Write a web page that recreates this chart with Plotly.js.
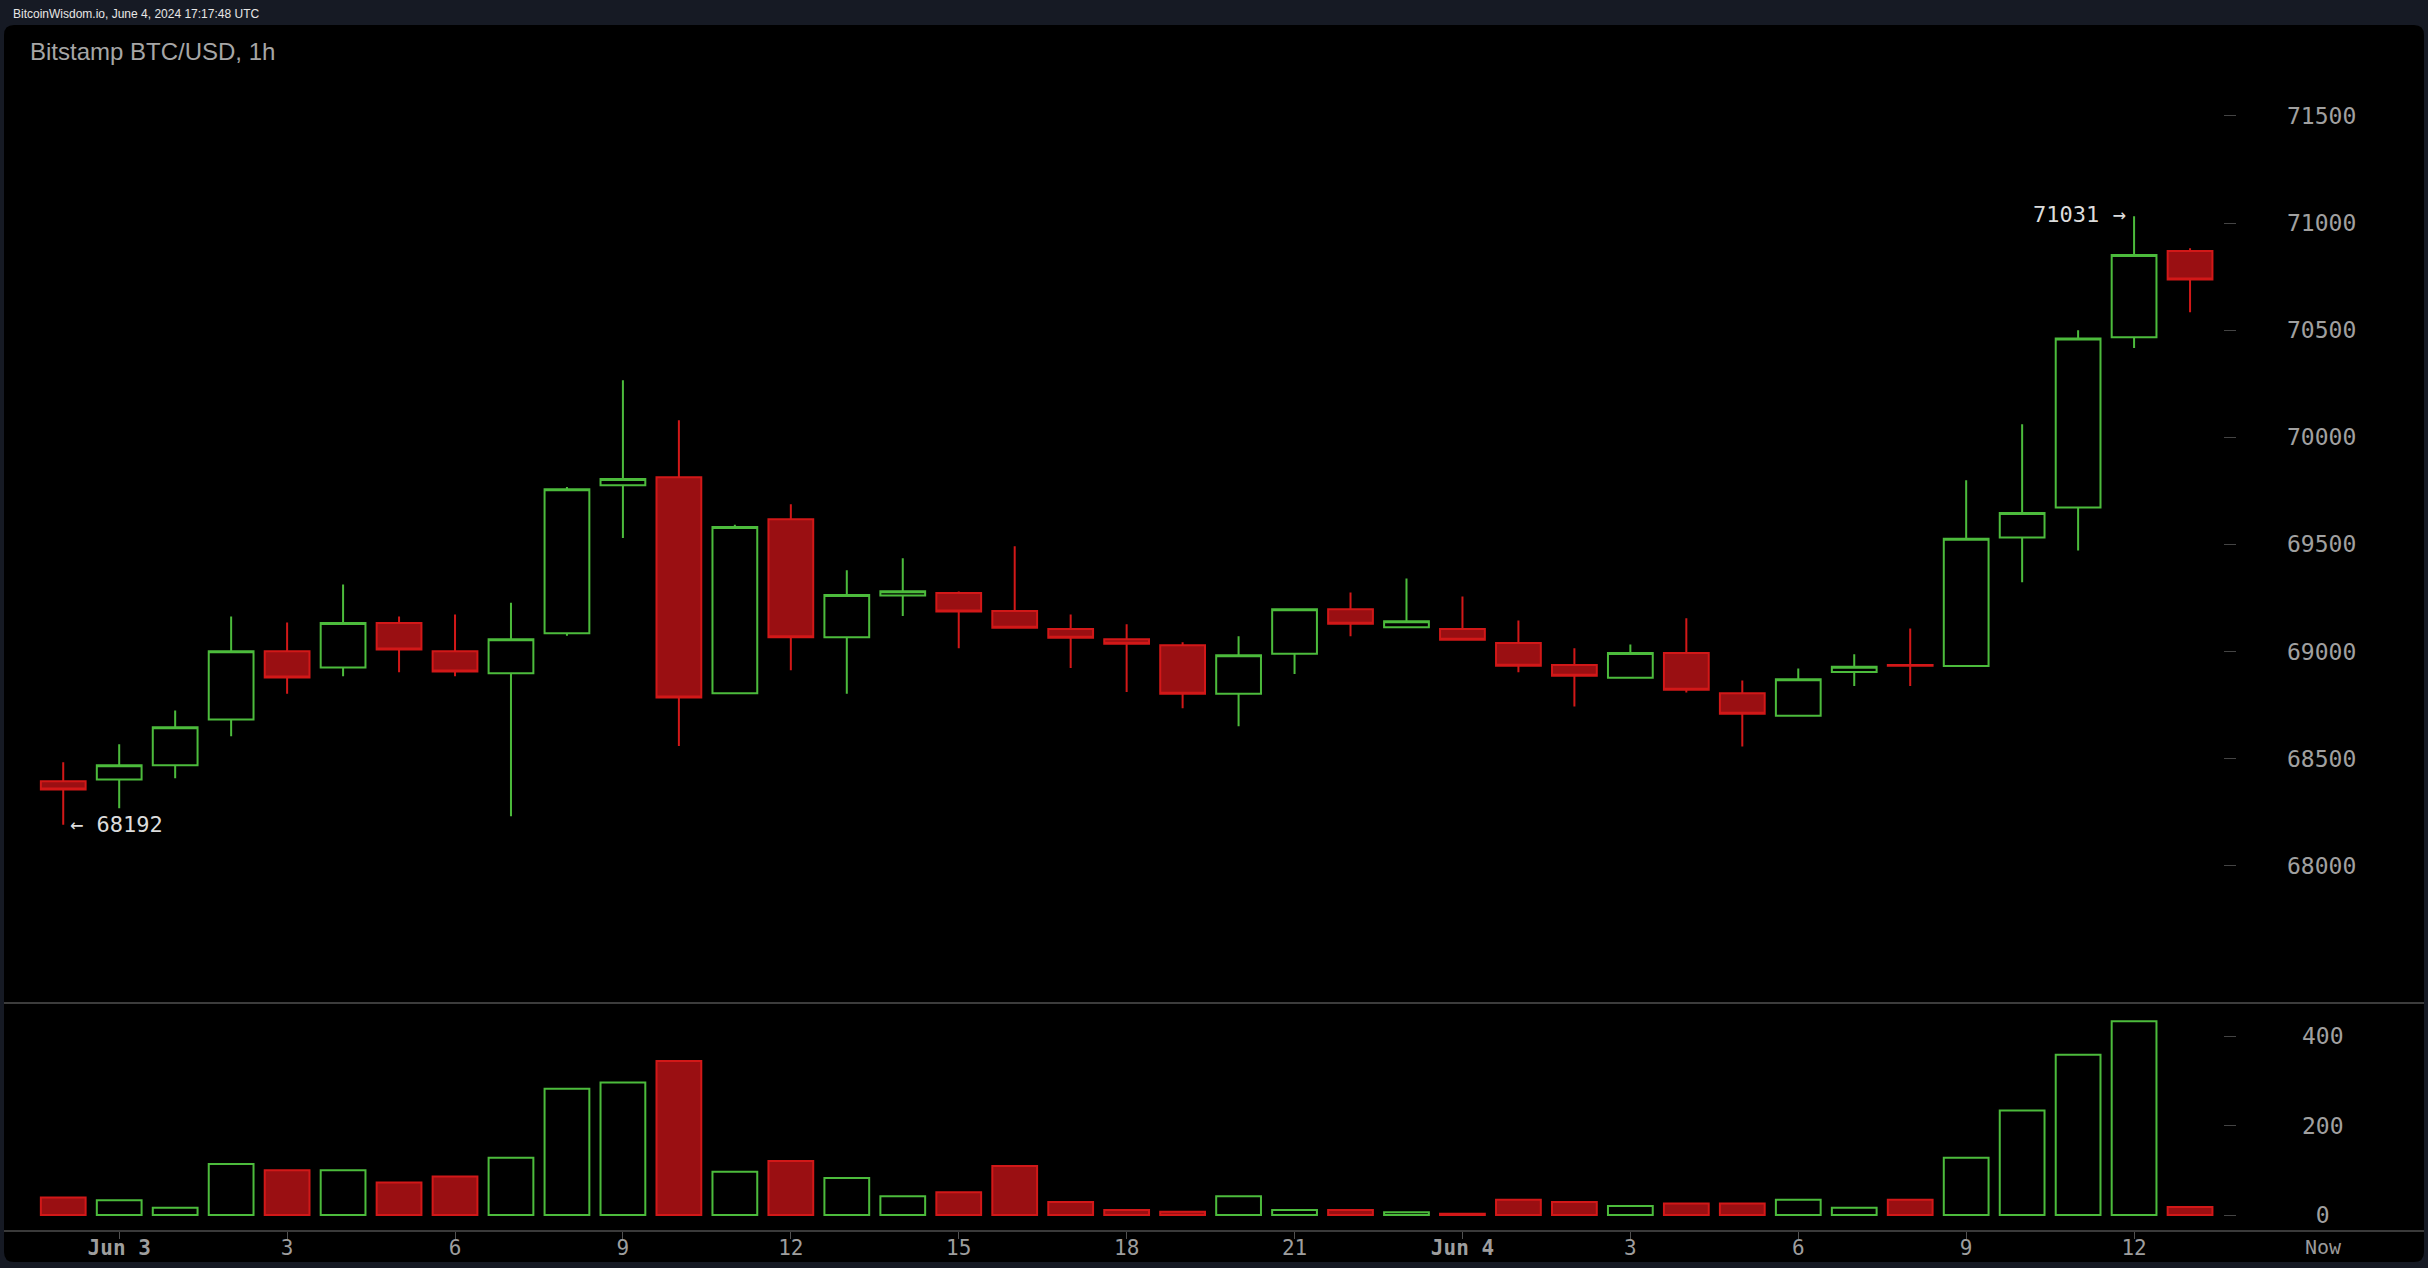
<!DOCTYPE html>
<html><head><meta charset="utf-8">
<script src="https://cdn.plot.ly/plotly-3.0.1.min.js"></script>
<style>html,body{margin:0;padding:0;background:#161a24;overflow:hidden}#chart{width:2428px;height:1268px}</style>
</head><body><div id="chart"></div>
<script>
// ---- data ----
const times = [
 '2024-06-02 23:00',
 '2024-06-03 00:00','2024-06-03 01:00','2024-06-03 02:00','2024-06-03 03:00','2024-06-03 04:00','2024-06-03 05:00',
 '2024-06-03 06:00','2024-06-03 07:00','2024-06-03 08:00','2024-06-03 09:00','2024-06-03 10:00','2024-06-03 11:00',
 '2024-06-03 12:00','2024-06-03 13:00','2024-06-03 14:00','2024-06-03 15:00','2024-06-03 16:00','2024-06-03 17:00',
 '2024-06-03 18:00','2024-06-03 19:00','2024-06-03 20:00','2024-06-03 21:00','2024-06-03 22:00','2024-06-03 23:00',
 '2024-06-04 00:00','2024-06-04 01:00','2024-06-04 02:00','2024-06-04 03:00','2024-06-04 04:00','2024-06-04 05:00',
 '2024-06-04 06:00','2024-06-04 07:00','2024-06-04 08:00','2024-06-04 09:00','2024-06-04 10:00','2024-06-04 11:00',
 '2024-06-04 12:00','2024-06-04 13:00'
];
const open  = [68395,68403,68469,68683,69002,68926,69133,69002,68899,69086,69776,69814,68806,69618,69067,69262,69273,69189,69105,69058,69030,68803,68990,69198,69113,69105,69040,68937,68878,68993,68806,68701,68905,68937,68933,69532,69672,70467,70869];
const high  = [68483,68567,68725,69164,69136,69313,69164,69173,69228,69768,70266,70079,69592,69687,69379,69435,69280,69491,69173,69127,69043,69071,69200,69276,69341,69257,69145,69015,69033,69155,68865,68921,68987,69108,69799,70061,70499,71031,70882];
const low   = [68192,68269,68409,68605,68803,68885,68904,68885,68231,69074,69530,68559,68806,68913,68803,69166,69016,69108,68923,68811,68736,68652,68895,69072,69111,69053,68903,68744,68876,68809,68557,68699,68839,68839,68931,69324,69472,70417,70584];
const close = [68356,68470,68647,69002,68879,69133,69010,68907,69058,69758,69805,68786,69581,69067,69264,69282,69187,69111,69065,69037,68803,68983,69198,69130,69142,69055,68934,68887,68993,68822,68710,68871,68929,68934,69527,69647,70461,70851,70736];
const volume = [39,33,16,114,100,100,73,86,128,283,297,345,97,121,83,42,51,110,29,11,7,42,11,11,6,3,34,29,20,26,26,34,16,34,128,234,359,434,18];

const priceTicks = [68000,68500,69000,69500,70000,70500,71000,71500];
const volTicks = [0,200,400];
const volTickText = ['\u00a00\u00a0','200','400'];
const xTickVals = ['2024-06-03 00:00','2024-06-03 03:00','2024-06-03 06:00','2024-06-03 09:00','2024-06-03 12:00','2024-06-03 15:00','2024-06-03 18:00','2024-06-03 21:00','2024-06-04 00:00','2024-06-04 03:00','2024-06-04 06:00','2024-06-04 09:00','2024-06-04 12:00'];
const xTickText = ['<b>Jun 3</b>','3','6','9','12','15','18','21','<b>Jun 4</b>','3','6','9','12'];

// ---- styling ----
const W = 2428, H = 1268;
const fx = x => x / W;
const fy = y => 1 - y / H;
const GREEN = '#4cbb3c', RED = '#d21818', REDFILL = '#9a0f12';
const MONO = 'DejaVu Sans Mono';

const up = close.map((c, i) => c >= open[i]);
const volFill = up.map(u => u ? 'rgba(0,0,0,0)' : REDFILL);
const volLine = up.map(u => u ? GREEN : RED);

const hiVal = Math.max(...high), hiIdx = high.indexOf(hiVal);
const loVal = Math.min(...low), loIdx = low.indexOf(loVal);

function panelPath(x0, y0, x1, y1, r) {
  const P = (x, y) => fx(x) + ',' + fy(y);
  return 'M' + P(x0 + r, y0) + ' L' + P(x1 - r, y0) + ' Q' + P(x1, y0) + ' ' + P(x1, y0 + r) +
    ' L' + P(x1, y1 - r) + ' Q' + P(x1, y1) + ' ' + P(x1 - r, y1) +
    ' L' + P(x0 + r, y1) + ' Q' + P(x0, y1) + ' ' + P(x0, y1 - r) +
    ' L' + P(x0, y0 + r) + ' Q' + P(x0, y0) + ' ' + P(x0 + r, y0) + ' Z';
}

const traces = [
  {
    type: 'candlestick', x: times, open: open, high: high, low: low, close: close,
    xaxis: 'x', yaxis: 'y',
    increasing: {line: {color: GREEN, width: 2}, fillcolor: 'rgba(0,0,0,0)'},
    decreasing: {line: {color: RED, width: 2}, fillcolor: REDFILL},
    hoverinfo: 'skip', showlegend: false
  },
  {
    type: 'bar', x: times, y: volume, xaxis: 'x', yaxis: 'y2',
    marker: {color: volFill, line: {color: volLine, width: 2}},
    hoverinfo: 'skip', showlegend: false
  }
];

const tickFont = {family: MONO, size: 23, color: '#a0a0a0'};

const layout = {
  width: W, height: H,
  margin: {l: 0, r: 0, t: 0, b: 0},
  paper_bgcolor: '#161a24', plot_bgcolor: 'rgba(0,0,0,0)',
  showlegend: false, hovermode: false, dragmode: false,
  boxgap: 0.2, boxgroupgap: 0, bargap: 0.2,
  title: {text: 'Bitstamp BTC/USD, 1h', xref: 'container', yref: 'container',
          x: fx(30), xanchor: 'left', y: fy(52), yanchor: 'middle',
          font: {family: 'Liberation Sans', size: 24, color: '#a6a6a6'}},
  xaxis: {
    type: 'date', domain: [fx(4), fx(2424)],
    range: ['2024-06-02 21:56:30', '2024-06-04 17:10:48'],
    anchor: 'y2', showline: true, linecolor: '#3a3a3a', linewidth: 2,
    ticks: 'outside', ticklen: 7, tickwidth: 1, tickcolor: '#505050',
    ticklabelstandoff: -9,
    tickmode: 'array', tickvals: xTickVals, ticktext: xTickText,
    tickfont: {family: MONO, size: 21, color: '#9e9e9e'},
    showgrid: false, zeroline: false, rangeslider: {visible: false}, fixedrange: true
  },
  yaxis: {
    domain: [fy(1003), fy(25)], range: [67360, 71924],
    anchor: 'free', position: fx(2236), side: 'right',
    ticks: 'inside', ticklen: 12, tickwidth: 1, tickcolor: '#444',
    tickmode: 'array', tickvals: priceTicks, ticktext: priceTicks.map(String),
    tickfont: tickFont, ticklabelstandoff: 50,
    showgrid: false, zeroline: false, showline: false, fixedrange: true
  },
  yaxis2: {
    domain: [fy(1230), fy(1003)], range: [-33.6, 474.8],
    anchor: 'free', position: fx(2236), side: 'right',
    ticks: 'inside', ticklen: 12, tickwidth: 1, tickcolor: '#444',
    tickmode: 'array', tickvals: volTicks, ticktext: volTickText,
    tickfont: tickFont, ticklabelstandoff: 65,
    showgrid: false, zeroline: false, showline: false, fixedrange: true
  },
  yaxis3: {
    overlaying: 'y', anchor: 'x', side: 'right', range: [67360, 71924],
    ticks: 'inside', ticklen: 12, tickwidth: 1, tickcolor: '#444',
    tickmode: 'array', tickvals: priceTicks, showticklabels: false,
    showgrid: false, zeroline: false, showline: false, fixedrange: true
  },
  yaxis4: {
    overlaying: 'y2', anchor: 'x', side: 'right', range: [-33.6, 474.8],
    ticks: 'inside', ticklen: 12, tickwidth: 1, tickcolor: '#444',
    tickmode: 'array', tickvals: volTicks, showticklabels: false,
    showgrid: false, zeroline: false, showline: false, fixedrange: true
  },
  shapes: [
    {type: 'path', xref: 'paper', yref: 'paper', path: panelPath(4, 25, 2424, 1262, 10),
     fillcolor: '#000000', line: {width: 0}, layer: 'below'},
    {type: 'line', xref: 'paper', yref: 'paper', x0: fx(4), x1: fx(2424), y0: fy(1003), y1: fy(1003),
     line: {color: '#3c3c3c', width: 2}, layer: 'below'}
  ],
  annotations: [
    {text: 'BitcoinWisdom.io, June 4, 2024 17:17:48 UTC', xref: 'paper', yref: 'paper',
     x: fx(10.5), y: fy(14), xanchor: 'left', yanchor: 'middle', showarrow: false,
     font: {family: 'Liberation Sans', size: 12, color: '#e6e6e6'}},
    {text: 'Now', xref: 'paper', yref: 'paper', x: fx(2323), y: fy(1247), xanchor: 'center', yanchor: 'middle',
     showarrow: false, font: {family: MONO, size: 20, color: '#9a9a9a'}},
    {text: hiVal + ' \u2192', xref: 'x', yref: 'y', x: times[hiIdx], y: hiVal, xanchor: 'right', yanchor: 'middle',
     xshift: -6, yshift: 2, showarrow: false, font: {family: MONO, size: 22, color: '#dcdcdc'}},
    {text: '\u2190 ' + loVal, xref: 'x', yref: 'y', x: times[loIdx], y: loVal, xanchor: 'left', yanchor: 'middle',
     xshift: 5, showarrow: false, font: {family: MONO, size: 22, color: '#dcdcdc'}}
  ]
};

Plotly.newPlot('chart', traces, layout, {staticPlot: true, displayModeBar: false});
</script>
</body></html>
